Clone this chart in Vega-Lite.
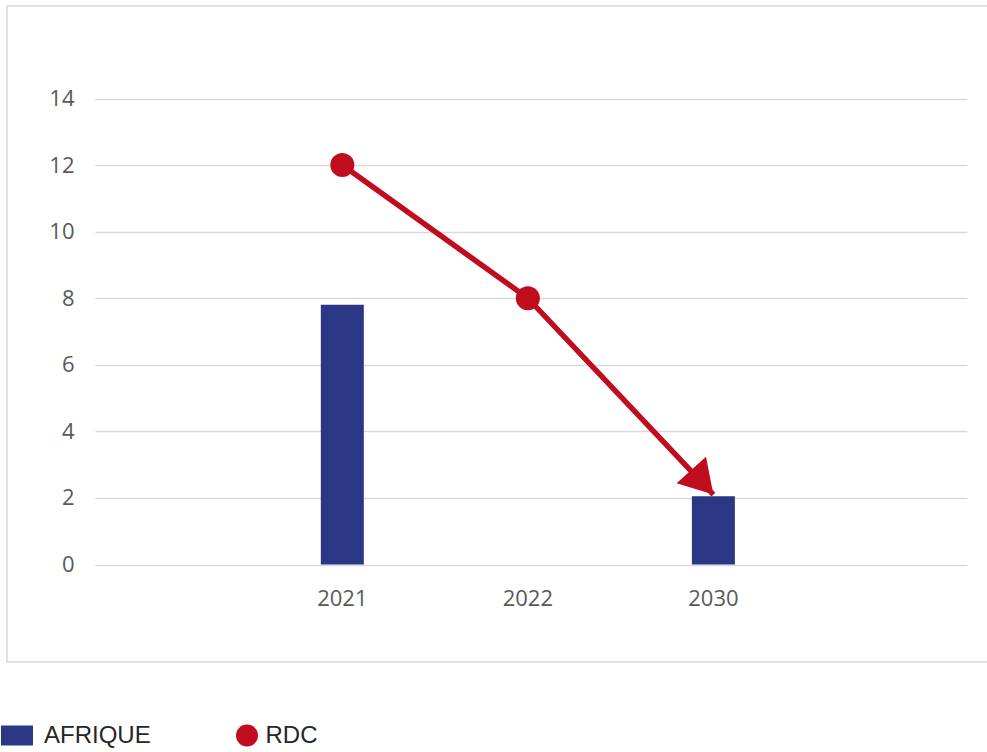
{
  "$schema": "https://vega.github.io/schema/vega-lite/v6.json",
  "autosize": {"type": "none"},
  "padding": {"left": 7, "top": 6, "right": -12, "bottom": 90},
  "width": 992,
  "height": 656,
  "config": {
    "view": {"stroke": "#d9d9d9", "strokeWidth": 1.5},
    "font": "Open Sans"
  },
  "data": {
    "values": [
      {"annee": "2021", "serie": "AFRIQUE", "valeur": 7.8},
      {"annee": "2030", "serie": "AFRIQUE", "valeur": 2.05},
      {"annee": "2021", "serie": "RDC", "valeur": 12},
      {"annee": "2022", "serie": "RDC", "valeur": 8},
      {"annee": "2030", "serie": "RDC", "valeur": 2.1}
    ]
  },
  "encoding": {
    "x": {
      "field": "annee",
      "type": "ordinal",
      "sort": null,
      "scale": {"type": "band", "domain": ["2021", "2022", "2030"], "range": [88, 960], "paddingInner": 0, "paddingOuter": 0.85, "align": 0.49},
      "axis": {"title": null, "domain": false, "ticks": false, "tickSize": 0, "offset": -97.5, "labelPadding": 23.5, "labelAngle": 0, "labelFontSize": 22, "labelColor": "#595959", "labelFont": "Open Sans", "grid": false}
    },
    "y": {
      "field": "valeur",
      "type": "quantitative",
      "scale": {"domain": [0, 14], "range": [558.5, 92.5], "nice": false, "zero": false},
      "axis": {"title": null, "values": [0, 2, 4, 6, 8, 10, 12, 14], "domain": false, "ticks": false, "tickSize": 0, "offset": -88, "labelPadding": 21, "labelFontSize": 22, "labelColor": "#595959", "labelFont": "Open Sans", "grid": true, "gridColor": "#d9d9d9", "gridWidth": 1.5}
    }
  },
  "layer": [
    {
      "transform": [{"filter": "datum.serie === 'AFRIQUE'"}],
      "mark": {"type": "bar", "width": 43},
      "encoding": {
        "color": {
          "field": "serie",
          "type": "nominal",
          "scale": {"domain": ["AFRIQUE", "RDC"], "range": ["#2A3784", "#C00D1E"]},
          "legend": {
            "title": null,
            "orient": "none",
            "legendX": 6.5,
            "legendY": 717.5,
            "direction": "horizontal",
            "columns": 2,
            "padding": 0,
            "symbolSize": 484,
            "symbolType": "circle",
            "symbolStrokeWidth": 0,
            "labelFontSize": 24,
            "labelFont": "Liberation Sans",
            "labelColor": "#262626",
            "labelOffset": 6.5,
            "columnPadding": 83.5,
            "encode": {
              "symbols": {
                "update": {
                  "shape": {"signal": "datum.label === 'AFRIQUE' ? 'M-2.23,-0.9H0.68V0.9H-2.23Z' : 'circle'"},
                  "fill": {"scale": "color", "field": "value"},
                  "opacity": {"value": 1}
                }
              }
            }
          }
        }
      }
    },
    {
      "transform": [{"filter": "datum.serie === 'RDC'"}],
      "mark": {"type": "line", "strokeWidth": 5.5, "strokeCap": "butt"},
      "encoding": {"color": {"field": "serie", "type": "nominal"}}
    },
    {
      "transform": [{"filter": "datum.serie === 'RDC' && datum.annee !== '2030'"}],
      "mark": {"type": "point", "filled": true, "size": 576, "opacity": 1, "shape": "circle"},
      "encoding": {"color": {"field": "serie", "type": "nominal"}}
    },
    {
      "transform": [{"filter": "datum.serie === 'RDC' && datum.annee === '2030'"}],
      "mark": {"type": "point", "filled": true, "size": 4356, "opacity": 1, "angle": 138, "shape": "M0,0L-0.6,1L0.6,1Z", "color": "#C00D1E"}
    }
  ]
}
